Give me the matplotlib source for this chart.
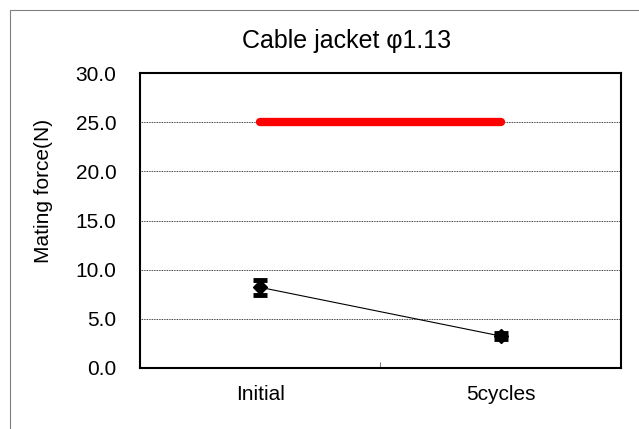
import numpy as np
import matplotlib.pyplot as plt
from matplotlib.patches import Rectangle

plt.rcParams['font.family'] = ['Liberation Sans', 'DejaVu Sans']

# Data
categories = ['Initial', '5cycles']
mating_force = [8.2, 3.25]
force_err = [0.75, 0.3]
spec_limit = [25.0, 25.0]

x = np.arange(len(categories))

fig = plt.figure(figsize=(6.39, 4.29), dpi=100)
fig.patches.append(Rectangle((0.016, -0.1), 1.2, 1.077, transform=fig.transFigure,
                             fill=False, edgecolor='#808080', linewidth=0.8))
ax = fig.add_axes([0.2191, 0.1422, 0.7527, 0.6876])

# Spec line
ax.plot(x, spec_limit, color='#ff0000', linewidth=6, solid_capstyle='round', zorder=3)

# Measured values
ax.errorbar(x, mating_force, yerr=force_err, color='black', linewidth=0.8,
            marker='D', markersize=7.5, elinewidth=1.5, capsize=5, capthick=3.5, zorder=4)

ax.set_xlim(-0.5, 1.5)
ax.set_ylim(0, 30)
ax.set_yticks(np.arange(0, 30.1, 5))
ax.set_yticklabels([f'{v:.1f}' for v in np.arange(0, 30.1, 5)])
ax.set_xticks(x)
ax.set_xticklabels(categories)
ax.set_xticks([0.5], minor=True)
ax.tick_params(axis='x', which='major', length=0, pad=12, labelsize=15)
ax.tick_params(axis='x', which='minor', direction='in', length=4, width=0.8, color='#808080')
ax.tick_params(axis='y', length=0, pad=17, labelsize=15)
ax.grid(axis='y', color='black', linestyle=(0, (1, 1)), linewidth=0.6)
ax.set_axisbelow(True)
for s in ax.spines.values():
    s.set_linewidth(1.5)

ax.set_ylabel('Mating force(N)', fontsize=15)
ax.yaxis.set_label_coords(-0.18, 0.6)
ax.set_title('Cable jacket \u03c61.13', fontsize=18, pad=18, x=0.43)

plt.savefig('out.png', dpi=100)
